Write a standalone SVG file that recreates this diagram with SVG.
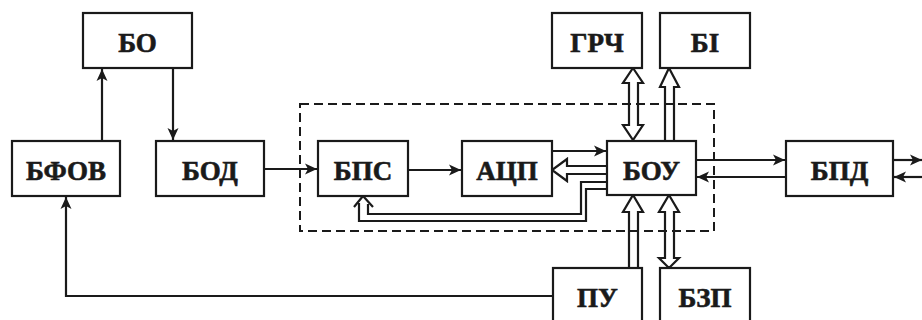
<svg xmlns="http://www.w3.org/2000/svg" width="922" height="320" viewBox="0 0 922 320">
  <style>
    .box { fill: #fff; stroke: #1a1a1a; stroke-width: 2.2; }
    .lbl { font-family: "Liberation Serif", "Times New Roman", serif; font-weight: bold; font-size: 27px; fill: #1a1a1a; stroke: #1a1a1a; stroke-width: 0.6; text-anchor: middle; }
    .ln { fill: none; stroke: #1a1a1a; stroke-width: 2.2; }
    .arr { fill: none; stroke: #1a1a1a; stroke-width: 2.2; marker-end: url(#head); }
    .frame { fill: none; stroke: #1a1a1a; stroke-width: 2; stroke-dasharray: 9 5; }
  </style>
  <defs>
    <marker id="head" markerUnits="userSpaceOnUse" markerWidth="13" markerHeight="12" refX="12" refY="6" orient="auto">
      <path d="M0,0.5 L12,6 L0,11.5 L3,6 z" fill="#1a1a1a"/>
    </marker>
  </defs>

  <rect width="922" height="320" fill="#fff"/>

  <!-- dashed boundary of the processing unit -->
  <rect class="frame" x="300" y="104" width="414" height="127"/>

  <g id="connectors">
    <!-- optical path -->
    <line class="arr" x1="102" y1="141" x2="102" y2="69"/>
    <line class="arr" x1="173" y1="68" x2="173" y2="140"/>
    <line class="arr" x1="264" y1="169" x2="317" y2="169"/>
    <line class="arr" x1="408" y1="170" x2="461" y2="170"/>
    <line class="arr" x1="552" y1="151" x2="606" y2="151"/>
    <!-- control bus БОУ -> АЦП -->
    <polyline class="ln" points="607,166 567,166 567,159 552,170 567,181 567,174 607,174"/>
    <!-- feedback БОУ -> БПС -->
    <polyline class="ln" points="607,182 581,182 581,214 368,214 368,204"/>
    <polyline class="ln" points="607,189 586,189 586,221 359,221 359,203"/>
    <polyline class="ln" points="354,207 363,196 373,207"/>
    <!-- БОУ <-> БПД, БПД <-> outside -->
    <line class="arr" x1="696" y1="160" x2="785" y2="160"/>
    <line class="arr" x1="786" y1="177" x2="697" y2="177"/>
    <line class="arr" x1="893" y1="160" x2="922" y2="160"/>
    <line class="arr" x1="922" y1="177" x2="894" y2="177"/>
    <!-- ГРЧ <-> БОУ -->
    <polygon class="ln" points="633,68 643,83 638,83 638,125 643,125 633,140 623,125 629,125 629,83 623,83"/>
    <!-- БОУ -> БІ -->
    <polyline class="ln" points="665,141 665,87 660,87 669,68 679,87 674,87 674,141"/>
    <!-- ПУ -> БОУ -->
    <polyline class="ln" points="629,268 629,212 623,212 633,195 643,212 638,212 638,268"/>
    <!-- БОУ <-> БЗП -->
    <polygon class="ln" points="669,195 679,212 674,212 674,258 679,258 669,268 659,258 665,258 665,212 659,212"/>
    <!-- ПУ -> БФОВ -->
    <polyline class="arr" points="552,296 66,296 66,197"/>
  </g>

  <g id="bo"><rect class="box" x="83" y="13" width="109" height="55"/><text class="lbl" x="137.5" y="52">БО</text></g>
  <g id="bfov"><rect class="box" x="12" y="141" width="108" height="55"/><text class="lbl" x="66" y="180">БФОВ</text></g>
  <g id="bod"><rect class="box" x="156" y="141" width="108" height="55"/><text class="lbl" x="210" y="180">БОД</text></g>
  <g id="bps"><rect class="box" x="318" y="141" width="90" height="55"/><text class="lbl" x="363" y="180">БПС</text></g>
  <g id="adc"><rect class="box" x="462" y="141" width="90" height="55"/><text class="lbl" x="507" y="180">АЦП</text></g>
  <g id="bou"><rect class="box" x="607" y="141" width="89" height="54"/><text class="lbl" x="651.5" y="180">БОУ</text></g>
  <g id="bpd"><rect class="box" x="786" y="141" width="107" height="55"/><text class="lbl" x="839.5" y="180">БПД</text></g>
  <g id="grch"><rect class="box" x="552" y="13" width="90" height="55"/><text class="lbl" x="597" y="52">ГРЧ</text></g>
  <g id="bi"><rect class="box" x="660" y="13" width="90" height="55"/><text class="lbl" x="705" y="52">БІ</text></g>
  <g id="pu"><rect class="box" x="553" y="268" width="89" height="60"/><text class="lbl" x="597.5" y="307">ПУ</text></g>
  <g id="bzp"><rect class="box" x="660" y="268" width="90" height="60"/><text class="lbl" x="705" y="307">БЗП</text></g>
</svg>
